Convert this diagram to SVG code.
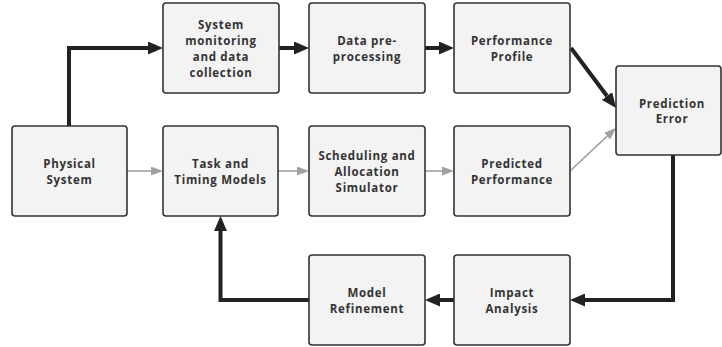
<svg xmlns="http://www.w3.org/2000/svg" width="722" height="347" viewBox="0 0 722 347">
<style>
.box{fill:#f3f3f3;stroke:#333;stroke-width:1.6}
.lbl{font-family:"Open Sans","Noto Sans","DejaVu Sans",sans-serif;font-weight:bold;font-size:11.5px;letter-spacing:0.7px;fill:#333;text-anchor:middle;dominant-baseline:central}
.thick{fill:none;stroke:#222;stroke-width:4}
.thin{fill:none;stroke:#a0a0a0;stroke-width:1.6}
</style>
<defs>
<marker id="ah" viewBox="0 0 15 13" refX="0" refY="6.5" markerWidth="15" markerHeight="13" markerUnits="userSpaceOnUse" orient="auto"><path d="M0,0 L15,6.5 L0,13 z" fill="#222"/></marker>
<marker id="ag" viewBox="0 0 12 9" refX="0" refY="4.5" markerWidth="12" markerHeight="9" markerUnits="userSpaceOnUse" orient="auto"><path d="M0,0 L12,4.5 L0,9 z" fill="#a0a0a0"/></marker>
</defs>
<g id="connectors">
<path class="thick" d="M69,126 V48 H148" marker-end="url(#ah)"/>
<path class="thick" d="M279,48 H294" marker-end="url(#ah)"/>
<path class="thick" d="M425,48 H439" marker-end="url(#ah)"/>
<path class="thick" d="M571,48 L607,96" marker-end="url(#ah)"/>
<path class="thin" d="M127,171 H151" marker-end="url(#ag)"/>
<path class="thin" d="M278,171 H297" marker-end="url(#ag)"/>
<path class="thin" d="M425,171 H442" marker-end="url(#ag)"/>
<path class="thin" d="M570,171 L607.2,136.2" marker-end="url(#ag)"/>
<path class="thick" d="M673,155 V300 H585" marker-end="url(#ah)"/>
<path class="thick" d="M454,300 H440" marker-end="url(#ah)"/>
<path class="thick" d="M309,300 H220.5 V231" marker-end="url(#ah)"/>
</g>
<g id="physical-system"><rect class="box" x="12" y="126" width="115" height="90" rx="3"/><text class="lbl" x="69.5" y="171"><tspan x="69.5" dy="-7.85">Physical</tspan><tspan x="69.5" dy="15.7">System</tspan></text></g>
<g id="system-monitoring"><rect class="box" x="163" y="3" width="116" height="90" rx="3"/><text class="lbl" x="221" y="48"><tspan x="221" dy="-23.55">System</tspan><tspan x="221" dy="15.7">monitoring</tspan><tspan x="221" dy="15.7">and data</tspan><tspan x="221" dy="15.7">collection</tspan></text></g>
<g id="data-preprocessing"><rect class="box" x="309" y="3" width="116" height="90" rx="3"/><text class="lbl" x="367" y="48"><tspan x="367" dy="-7.85">Data pre-</tspan><tspan x="367" dy="15.7">processing</tspan></text></g>
<g id="performance-profile"><rect class="box" x="454" y="3" width="116" height="90" rx="3"/><text class="lbl" x="512" y="48"><tspan x="512" dy="-7.85">Performance</tspan><tspan x="512" dy="15.7">Profile</tspan></text></g>
<g id="prediction-error"><rect class="box" x="616" y="66" width="105" height="89" rx="3"/><text class="lbl" x="672" y="110.5"><tspan x="672" dy="-7.85">Prediction</tspan><tspan x="672" dy="15.7">Error</tspan></text></g>
<g id="task-timing-models"><rect class="box" x="163" y="126" width="115" height="90" rx="3"/><text class="lbl" x="220.5" y="171"><tspan x="220.5" dy="-7.85">Task and</tspan><tspan x="220.5" dy="15.7">Timing Models</tspan></text></g>
<g id="scheduling-simulator"><rect class="box" x="309" y="126" width="116" height="90" rx="3"/><text class="lbl" x="367" y="171"><tspan x="367" dy="-15.7">Scheduling and</tspan><tspan x="367" dy="15.7">Allocation</tspan><tspan x="367" dy="15.7">Simulator</tspan></text></g>
<g id="predicted-performance"><rect class="box" x="454" y="126" width="116" height="90" rx="3"/><text class="lbl" x="512" y="171"><tspan x="512" dy="-7.85">Predicted</tspan><tspan x="512" dy="15.7">Performance</tspan></text></g>
<g id="model-refinement"><rect class="box" x="309" y="255" width="116" height="90" rx="3"/><text class="lbl" x="367" y="300"><tspan x="367" dy="-7.85">Model</tspan><tspan x="367" dy="15.7">Refinement</tspan></text></g>
<g id="impact-analysis"><rect class="box" x="454" y="255" width="116" height="90" rx="3"/><text class="lbl" x="512" y="300"><tspan x="512" dy="-7.85">Impact</tspan><tspan x="512" dy="15.7">Analysis</tspan></text></g>
</svg>
